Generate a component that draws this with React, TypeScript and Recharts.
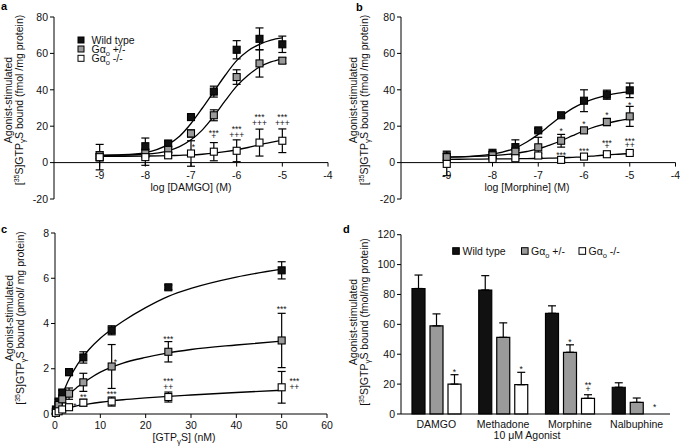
import React from 'react';
import {
  ComposedChart,
  Line,
  Scatter,
  XAxis,
  YAxis,
  ErrorBar,
  ReferenceLine,
  Bar,
  LabelList,
} from 'recharts';

const FONT = '"Liberation Sans", Arial, Helvetica, sans-serif';
const BLACK = '#111111';
const GRAY = '#9a9a9a';
const WHITE = '#ffffff';
const FS = 10.5;
const MARK_FS = 8.5;

// ---------- Panel a: DAMGO ----------
const logDose = [-9, -8, -7.5, -7, -6.5, -6, -5.5, -5];
const damgoWT = [3, 9, 10.5, 25, 39, 62, 68, 65];
const damgoWTErr = [2, 4.5, 1.5, 1.5, 3, 5, 6, 4.5];
const damgoHet = [4, 5, 7, 16, 26, 47, 54.5, 56];
const damgoHetErr = [2, 2, 1.5, 2, 3, 4, 7.5, 1.5];
const damgoKO = [3, 3, 4, 5, 6, 6.5, 11, 12];
const damgoKOErr = [7, 4.5, 1.5, 7, 5, 6, 7.4, 6.5];

const fitDose = [-9, -8.5, -8, -7.5, -7.25, -7, -6.75, -6.5, -6.25, -6, -5.75, -5.5, -5.25, -5];
const damgoWTFit = [4, 4.3, 5.5, 10, 14.5, 21.5, 30, 39, 48, 56, 61.5, 65, 67.3, 68.5];
const damgoHetFit = [4, 4.1, 4.6, 6.5, 8.8, 12.5, 18, 25.5, 34, 42, 48, 52.5, 55.3, 57];
const damgoKOFit = [3.5, 3.5, 3.6, 3.8, 4, 4.2, 4.6, 5.2, 6, 7, 8.3, 9.8, 11.1, 12.3];

const damgoMarkX = [-6.95, -6.5, -6.5, -6, -6, -5.5, -5.5, -5, -5];
const damgoMarkY = [6.8, 14.7, 12.8, 16.9, 13.7, 23.4, 20.1, 23.4, 20.1];
const damgoMarkText = ['*', '***', '+', '***', '+++', '***', '+++', '***', '+++'];

// ---------- Panel b: Morphine ----------
const morWT = [3.3, 4.8, 8.5, 17.7, 26, 34, 37.3, 39.7];
const morWTErr = [3, 2.5, 4, 1, 1, 6, 2.5, 4];
const morHet = [3, 4, 6, 8.4, 12, 17.7, 22.3, 25.4];
const morHetErr = [2, 2, 2, 5.5, 3.5, 1, 2, 5.5];
const morKO = [-0.7, 2, 2.4, 3.9, 1.5, 3.3, 4.6, 5.3];
const morKOErr = [6.5, 1, 1, 1, 0.8, 1, 1, 1];

const morWTFit = [3, 3.4, 4.6, 8, 11.3, 15.5, 20.5, 25.5, 29.8, 33, 35.3, 37, 38.2, 39];
const morHetFit = [3, 3.3, 3.8, 5, 6.1, 7.5, 9.6, 12, 14.8, 17.5, 19.8, 21.6, 23, 24];
const morKOFit = [1.8, 1.9, 2, 2.1, 2.2, 2.3, 2.45, 2.6, 2.9, 3.2, 3.7, 4.2, 4.6, 5];

const morMarkX = [-6.5, -6, -5.5, -5, -6.5, -6, -5.5, -5.5, -5, -5];
const morMarkY = [15.7, 19.4, 24.3, 29.8, 2.6, 5.0, 9.0, 7.4, 10.0, 7.8];
const morMarkText = ['*', '*', '*', '*', '***', '***', '***', '+', '***', '++'];

const logTicks = [-9, -8, -7, -6, -5, -4];

// ---------- Panel c: GTPgS saturation ----------
const gtpConc = [0.2, 0.8, 1.6, 3.1, 6.25, 12.5, 25, 50];
const gtpWT = [0.2, 0.55, 0.95, 1.85, 2.5, 3.7, 5.6, 6.35];
const gtpWTErr = [0.05, 0.1, 0.1, 0.15, 0.25, 0.2, 0.1, 0.38];
const gtpHet = [0.1, 0.4, 0.65, 0.9, 1.4, 2.1, 2.75, 3.25];
const gtpHetErr = [0.05, 0.1, 0.15, 0.25, 0.4, 0.97, 0.45, 1.2];
const gtpKO = [0.05, 0.12, 0.2, 0.3, 0.5, 0.55, 0.75, 1.18];
const gtpKOErr = [0.02, 0.05, 0.05, 0.08, 0.15, 0.2, 0.22, 0.7];

const gtpFitWTConc = [1.6, 3, 5, 7.5, 10, 12.5, 15, 20, 25, 30, 40, 50];
const gtpWTFit = [0.85, 1.5, 2.2, 2.85, 3.35, 3.75, 4.1, 4.7, 5.2, 5.55, 6.05, 6.4];
const gtpFitConc = [0.2, 1, 2, 3, 5, 7.5, 10, 12.5, 15, 20, 25, 30, 40, 50];
const gtpHetFit = [0.08, 0.35, 0.6, 0.85, 1.2, 1.55, 1.85, 2.07, 2.25, 2.5, 2.7, 2.85, 3.05, 3.22];
const gtpKOFit = [0.03, 0.1, 0.18, 0.25, 0.37, 0.45, 0.52, 0.58, 0.63, 0.71, 0.78, 0.84, 0.95, 1.05];

const gtpMarkX = [13.3, 25, 50, 4.4, 6.25, 12.5, 25, 25, 52.8, 52.8];
const gtpMarkY = [2.18, 3.18, 4.5, 0.24, 0.64, 0.75, 1.31, 1.08, 1.31, 1.08];
const gtpMarkText = ['*', '***', '***', '*', '**', '***', '***', '++', '***', '++'];

const gtpTicks = [0, 10, 20, 30, 40, 50, 60];

// ---------- Panel d: 10 uM agonists ----------
const agonists = ['DAMGO', 'Methadone', 'Morphine', 'Nalbuphine'];
const barWT = [84, 83, 67.4, 17.9];
const barWTErr = [9, 9.6, 5, 3];
const barHet = [59, 51.3, 41.3, 7.8];
const barHetErr = [8, 9.7, 5, 2.9];
const barKO = [20, 19.6, 10.5, 0];
const barKOErr = [6.3, 8.3, 2.4, 3];
const barHetMarks = ['', '', '*', ''];
const barKOMarks = ['*', '*', '**|+', '*'];

// ---------- table builders ----------
const pts = (xs: number[], ys: number[], es: number[]) => xs.map((x, i) => ({ x, y: ys[i], e: es[i] }));
const crv = (xs: number[], ys: number[]) => xs.map((x, i) => ({ x, y: ys[i] }));
const marks = (xs: number[], ys: number[], ts: string[]) => xs.map((x, i) => ({ x, y: ys[i], t: ts[i] }));

const barTable = agonists.map((name, i) => ({
  name,
  wt: barWT[i],
  wtE: [0, barWTErr[i]],
  het: barHet[i],
  hetE: [0, barHetErr[i]],
  hetGhost: barHetErr[i],
  hetMark: barHetMarks[i],
  ko: barKO[i],
  koE: [0, barKOErr[i]],
  koGhost: barKOErr[i],
  koMark: barKOMarks[i],
}));

// ---------- shapes ----------
const square = (fill: string) => (p: any) =>
  p.cx == null ? <g /> : (
    <rect x={p.cx - 3.5} y={p.cy - 3.5} width={7} height={7} fill={fill} stroke="#000" strokeWidth={1.1} />
  );

const markShape = (p: any) =>
  p.cx == null ? <g /> : (
    <text x={p.cx} y={p.cy} textAnchor="middle" fontSize={MARK_FS} fontFamily={FONT} fill="#111">
      {p.payload.t}
    </text>
  );

const zeroTickShape = (p: any) =>
  p.cx == null ? <g /> : (
    <g>
      <line x1={p.cx} y1={p.cy} x2={p.cx} y2={p.cy + 4} stroke="#000" strokeWidth={1} />
      <text x={p.cx} y={p.cy + 16} textAnchor="middle" fontSize={FS} fontFamily={FONT} fill="#111">
        {p.payload.t}
      </text>
    </g>
  );

const barMarkContent = (p: any) => {
  const v = p.value as string;
  if (!v) return null;
  const x = p.x + p.width / 2;
  const lines = v.split('|').reverse();
  let base = p.y;
  return (
    <g>
      {lines.map((ln, i) => {
        base = i === 0 ? p.y - (ln.includes('+') ? 2.8 : 0) : base - 3.5;
        return (
          <text key={i} x={x} y={base} textAnchor="middle" fontSize={MARK_FS} fontFamily={FONT} fill="#111">
            {ln}
          </text>
        );
      })}
    </g>
  );
};

const tickStyle = { fontSize: FS, fill: '#111', fontFamily: FONT };

type Series = { curve: { x: number; y: number }[]; points: { x: number; y: number; e: number }[]; fill: string };

function DosePanel(props: { left: number; top: number; yw: number; right: number; sets: Series[]; anns: any[] }) {
  const ticks = logTicks.map((t) => ({ x: t, y: 0, t: String(t) }));
  return (
    <div style={{ position: 'absolute', left: props.left, top: props.top }}>
      <ComposedChart width={340} height={224} margin={{ top: 17, right: props.right, bottom: 25, left: 0 }}>
        <XAxis type="number" dataKey="x" domain={[-10, -4]} hide />
        <YAxis
          type="number"
          dataKey="y"
          domain={[-20, 80]}
          ticks={[-20, 0, 20, 40, 60, 80]}
          interval={0}
          width={props.yw}
          tickSize={4}
          tick={tickStyle}
          axisLine={{ stroke: '#000' }}
          tickLine={{ stroke: '#000' }}
        />
        <ReferenceLine y={0} stroke="#000" strokeWidth={1} />
        <Scatter data={ticks} shape={zeroTickShape} isAnimationActive={false} />
        {props.sets.map((s, i) => (
          <Line
            key={'l' + i}
            data={s.curve}
            dataKey="y"
            type="monotone"
            stroke="#000"
            strokeWidth={1.3}
            dot={false}
            activeDot={false}
            isAnimationActive={false}
          />
        ))}
        {props.sets.map((s, i) => (
          <Scatter key={'s' + i} data={s.points} shape={square(s.fill)} isAnimationActive={false}>
            <ErrorBar dataKey="e" direction="y" width={4} stroke="#000" strokeWidth={1.2} />
          </Scatter>
        ))}
        <Scatter data={props.anns} shape={markShape} isAnimationActive={false} />
      </ComposedChart>
    </div>
  );
}

function GSub({ s }: { s: string }) {
  return (
    <>
      <tspan>Gα</tspan>
      <tspan dy={2.5} fontSize={7.5}>o</tspan>
      <tspan dy={-2.5}>{s}</tspan>
    </>
  );
}

function YLabel({ x, y, unit }: { x: number; y: number; unit: string }) {
  return (
    <g>
      <text transform={`translate(${x},${y}) rotate(-90)`} textAnchor="middle" fontSize={FS} fill="#111">
        Agonist-stimulated
      </text>
      <text transform={`translate(${x + 10.5},${y}) rotate(-90)`} textAnchor="middle" fontSize={FS} fill="#111">
        <tspan>[</tspan>
        <tspan dy={-3.5} fontSize={7}>35</tspan>
        <tspan dy={3.5}>S]GTP</tspan>
        <tspan dy={2.5} fontSize={8}>γ</tspan>
        <tspan dy={-2.5}>{'S bound ' + unit}</tspan>
      </text>
    </g>
  );
}

export default function App() {
  const aSets: Series[] = [
    { curve: crv(fitDose, damgoWTFit), points: pts(logDose, damgoWT, damgoWTErr), fill: BLACK },
    { curve: crv(fitDose, damgoHetFit), points: pts(logDose, damgoHet, damgoHetErr), fill: GRAY },
    { curve: crv(fitDose, damgoKOFit), points: pts(logDose, damgoKO, damgoKOErr), fill: WHITE },
  ];
  const bSets: Series[] = [
    { curve: crv(fitDose, morWTFit), points: pts(logDose, morWT, morWTErr), fill: BLACK },
    { curve: crv(fitDose, morHetFit), points: pts(logDose, morHet, morHetErr), fill: GRAY },
    { curve: crv(fitDose, morKOFit), points: pts(logDose, morKO, morKOErr), fill: WHITE },
  ];
  const cSets: Series[] = [
    { curve: crv(gtpFitWTConc, gtpWTFit), points: pts(gtpConc, gtpWT, gtpWTErr), fill: BLACK },
    { curve: crv(gtpFitConc, gtpHetFit), points: pts(gtpConc, gtpHet, gtpHetErr), fill: GRAY },
    { curve: crv(gtpFitConc, gtpKOFit), points: pts(gtpConc, gtpKO, gtpKOErr), fill: WHITE },
  ];

  return (
    <div style={{ position: 'absolute', left: 0, top: 0, width: 680, height: 448, background: '#fff', fontFamily: FONT }}>
      <DosePanel left={0} top={0} yw={54} right={12} sets={aSets} anns={marks(damgoMarkX, damgoMarkY, damgoMarkText)} />
      <DosePanel left={340} top={0} yw={61} right={4.5} sets={bSets} anns={marks(morMarkX, morMarkY, morMarkText)} />

      {/* Panel c */}
      <div style={{ position: 'absolute', left: 0, top: 224 }}>
        <ComposedChart width={340} height={224} margin={{ top: 9, right: 13, bottom: 0, left: 0 }}>
          <XAxis
            type="number"
            dataKey="x"
            domain={[0, 60]}
            ticks={gtpTicks}
            interval={0}
            height={34}
            tickSize={4}
            tickMargin={4}
            tick={tickStyle}
            axisLine={{ stroke: '#000' }}
            tickLine={{ stroke: '#000' }}
          />
          <YAxis
            type="number"
            dataKey="y"
            domain={[0, 8]}
            ticks={[0, 2, 4, 6, 8]}
            interval={0}
            width={55}
            tickSize={4}
            tick={tickStyle}
            axisLine={{ stroke: '#000' }}
            tickLine={{ stroke: '#000' }}
          />
          {cSets.map((s, i) => (
            <Line
              key={'l' + i}
              data={s.curve}
              dataKey="y"
              type="monotone"
              stroke="#000"
              strokeWidth={1.3}
              dot={false}
              activeDot={false}
              isAnimationActive={false}
            />
          ))}
          {cSets.map((s, i) => (
            <Scatter key={'s' + i} data={s.points} shape={square(s.fill)} isAnimationActive={false}>
              <ErrorBar dataKey="e" direction="y" width={4} stroke="#000" strokeWidth={1.2} />
            </Scatter>
          ))}
          <Scatter data={marks(gtpMarkX, gtpMarkY, gtpMarkText)} shape={markShape} isAnimationActive={false} />
        </ComposedChart>
      </div>

      {/* Panel d */}
      <div style={{ position: 'absolute', left: 340, top: 224 }}>
        <ComposedChart
          width={340}
          height={224}
          data={barTable}
          margin={{ top: 10.7, right: 10, bottom: 0, left: 0 }}
          barSize={13}
          barGap={5}
        >
          <XAxis
            dataKey="name"
            type="category"
            padding={{ left: 2, right: 0 }}
            height={34}
            tickLine={false}
            tickSize={0}
            tickMargin={7}
            tick={tickStyle}
            axisLine={{ stroke: '#000' }}
            interval={0}
          />
          <YAxis
            type="number"
            domain={[0, 120]}
            ticks={[0, 20, 40, 60, 80, 100, 120]}
            interval={0}
            width={61}
            tickSize={4}
            tick={tickStyle}
            axisLine={{ stroke: '#000' }}
            tickLine={{ stroke: '#000' }}
          />
          <Bar dataKey="wt" stackId="wt" fill={BLACK} stroke="#000" strokeWidth={1.2} isAnimationActive={false}>
            <ErrorBar dataKey="wtE" direction="y" width={4} stroke="#000" strokeWidth={1.2} />
          </Bar>
          <Bar dataKey="het" stackId="het" fill={GRAY} stroke="#000" strokeWidth={1.2} isAnimationActive={false}>
            <ErrorBar dataKey="hetE" direction="y" width={4} stroke="#000" strokeWidth={1.2} />
          </Bar>
          <Bar dataKey="hetGhost" stackId="het" fill="none" stroke="none" isAnimationActive={false}>
            <LabelList dataKey="hetMark" content={barMarkContent} />
          </Bar>
          <Bar dataKey="ko" stackId="ko" fill={WHITE} stroke="#000" strokeWidth={1.2} isAnimationActive={false}>
            <ErrorBar dataKey="koE" direction="y" width={4} stroke="#000" strokeWidth={1.2} />
          </Bar>
          <Bar dataKey="koGhost" stackId="ko" fill="none" stroke="none" isAnimationActive={false}>
            <LabelList dataKey="koMark" content={barMarkContent} />
          </Bar>
        </ComposedChart>
      </div>

      {/* Static text: panel letters, axis titles, legends */}
      <svg
        width={680}
        height={448}
        style={{ position: 'absolute', left: 0, top: 0, pointerEvents: 'none' }}
        fontFamily={FONT}
      >
        <text x={1} y={10} fontSize={11} fontWeight="bold">a</text>
        <text x={356} y={10.5} fontSize={11} fontWeight="bold">b</text>
        <text x={1} y={233} fontSize={11} fontWeight="bold">c</text>
        <text x={343} y={233} fontSize={11} fontWeight="bold">d</text>

        <YLabel x={12} y={100} unit="(fmol /mg protein)" />
        <YLabel x={357} y={100} unit="(fmol /mg protein)" />
        <YLabel x={13} y={318} unit="(pmol/ mg protein)" />
        <YLabel x={357} y={322} unit="(fmol/mg protein)" />

        <text x={191} y={191} fontSize={FS} textAnchor="middle" fill="#111">log [DAMGO] (M)</text>
        <text x={527} y={191} fontSize={FS} textAnchor="middle" fill="#111">log [Morphine] (M)</text>
        <text x={184} y={441} fontSize={FS} textAnchor="middle" fill="#111">
          <tspan>[GTP</tspan>
          <tspan dy={2.5} fontSize={8}>γ</tspan>
          <tspan dy={-2.5}>S] (nM)</tspan>
        </text>
        <text x={527} y={439} fontSize={FS} textAnchor="middle" fill="#111">10 μM Agonist</text>

        {/* legend a */}
        <rect x={78} y={37} width={6} height={6} fill={BLACK} stroke="#000" />
        <rect x={78} y={46} width={6} height={6} fill={GRAY} stroke="#000" />
        <rect x={78} y={55.3} width={6} height={6} fill={WHITE} stroke="#000" />
        <text x={91.5} y={44} fontSize={FS} fill="#111">Wild type</text>
        <text x={91.5} y={53} fontSize={FS} fill="#111"><GSub s=" +/-" /></text>
        <text x={91.5} y={62.3} fontSize={FS} fill="#111"><GSub s=" -/-" /></text>

        {/* legend d */}
        <rect x={452.7} y={247.7} width={6.6} height={6.6} fill={BLACK} stroke="#000" />
        <text x={462.5} y={255} fontSize={FS} fill="#111">Wild type</text>
        <rect x={521.5} y={247.7} width={6.6} height={6.6} fill={GRAY} stroke="#000" />
        <text x={531} y={255} fontSize={FS} fill="#111"><GSub s=" +/-" /></text>
        <rect x={579} y={247.7} width={6.6} height={6.6} fill={WHITE} stroke="#000" />
        <text x={588.5} y={255} fontSize={FS} fill="#111"><GSub s=" -/-" /></text>
      </svg>
    </div>
  );
}
